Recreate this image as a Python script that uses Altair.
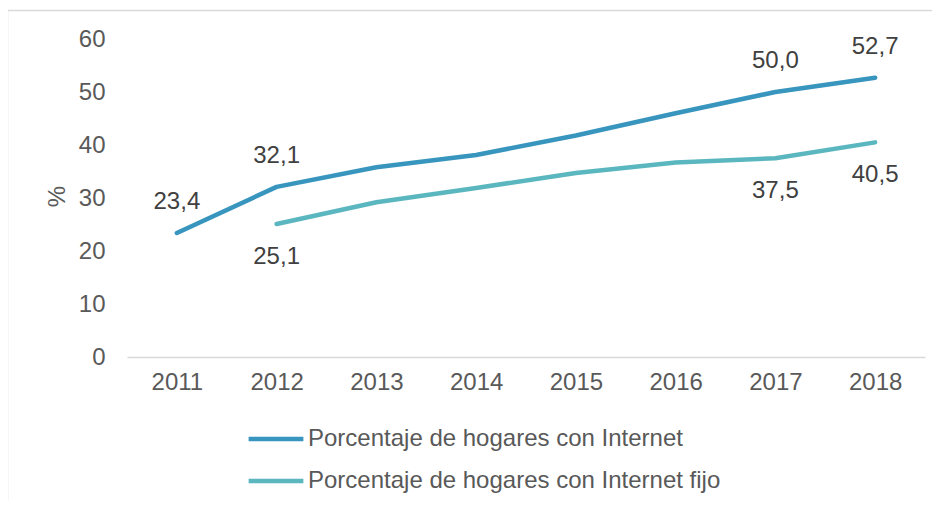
import altair as alt
import pandas as pd

years = ["2011", "2012", "2013", "2014", "2015", "2016", "2017", "2018"]
internet = [23.4, 32.1, 35.8, 38.1, 41.8, 46.0, 50.0, 52.7]
fijo = [None, 25.1, 29.2, 31.9, 34.7, 36.7, 37.5, 40.5]
series_names = ["Porcentaje de hogares con Internet", "Porcentaje de hogares con Internet fijo"]
colors = ["#3795BE", "#5BB7BF"]

# labelled points: (series index, year, value, position)
lab_series = [0, 0, 0, 0, 1, 1, 1]
lab_years = ["2011", "2012", "2017", "2018", "2012", "2017", "2018"]
lab_values = [23.4, 32.1, 50.0, 52.7, 25.1, 37.5, 40.5]
lab_pos = ["above", "above", "above", "above", "below", "below", "below"]

FS = 24
FONT = "Liberation Sans"

rows = []
for name, vals in zip(series_names, [internet, fijo]):
    for y, v in zip(years, vals):
        if v is not None:
            rows.append({"year": y, "value": v, "serie": name})
df = pd.DataFrame(rows)

labels = pd.DataFrame({
    "year": lab_years,
    "value": lab_values,
    "serie": [series_names[i] for i in lab_series],
    "pos": lab_pos,
    "text": [f"{v:.1f}".replace(".", ",") for v in lab_values],
})

x = alt.X("year:N", title=None, sort=years,
          scale=alt.Scale(paddingInner=0, paddingOuter=0),
          axis=alt.Axis(labelAngle=0, ticks=False, domainColor="#D9D9D9", domainWidth=1.5,
                        labelFontSize=FS, labelColor="#595959", labelPadding=13,
                        labelFont=FONT, grid=False))
y = alt.Y("value:Q", title="%", scale=alt.Scale(domain=[0, 60]),
          axis=alt.Axis(values=[0, 10, 20, 30, 40, 50, 60], ticks=False, domain=False, grid=False,
                        labelFontSize=FS, labelColor="#595959", labelPadding=22,
                        labelFont=FONT,
                        titleFontSize=FS, titleFontWeight="normal", titleColor="#595959",
                        titleFont=FONT, titleX=-70, titleY=157, titleAngle=-90,
                        titleBaseline="middle"))

color = alt.Color("serie:N", sort=series_names,
                  scale=alt.Scale(domain=series_names, range=colors),
                  legend=alt.Legend(title=None, orient="none", legendX=119, legendY=370,
                                    direction="vertical", symbolType="stroke",
                                    symbolSize=3000, symbolStrokeWidth=4.5,
                                    labelFontSize=FS, labelColor="#595959",
                                    labelFont=FONT, labelOffset=2,
                                    rowPadding=-14, labelLimit=700))

lines = alt.Chart(df).mark_line(strokeWidth=4.5, strokeCap="round", strokeJoin="round").encode(
    x=x, y=y, color=color)

base_lab = alt.Chart(labels).encode(
    x=alt.X("year:N", sort=years), y=alt.Y("value:Q"), text="text:N")
above = base_lab.transform_filter(alt.datum.pos == "above").mark_text(
    dy=-31, fontSize=FS, color="#404040", font=FONT)
below = base_lab.transform_filter(alt.datum.pos == "below").mark_text(
    dy=33, fontSize=FS, color="#404040", font=FONT)

frame_df = pd.DataFrame({"k": [1]})
left_border = alt.Chart(frame_df).mark_rule(color="#D9D9D9", strokeWidth=1.5).encode(
    x=alt.value(-119.5), y=alt.value(-28.5), y2=alt.value(470))
top_border = alt.Chart(frame_df).mark_rule(color="#D9D9D9", strokeWidth=1.5).encode(
    x=alt.value(-119.5), x2=alt.value(820), y=alt.value(-28.5))

chart = alt.layer(left_border, top_border, lines, above, below).properties(
    width=798, height=318,
    autosize=alt.AutoSizeParams(type="none"),
    padding={"left": 119, "top": 31, "right": 7, "bottom": 143},
    background="white",
).configure_view(stroke=None)

chart.save("out.html", embed_options={"renderer": "svg", "actions": False})
